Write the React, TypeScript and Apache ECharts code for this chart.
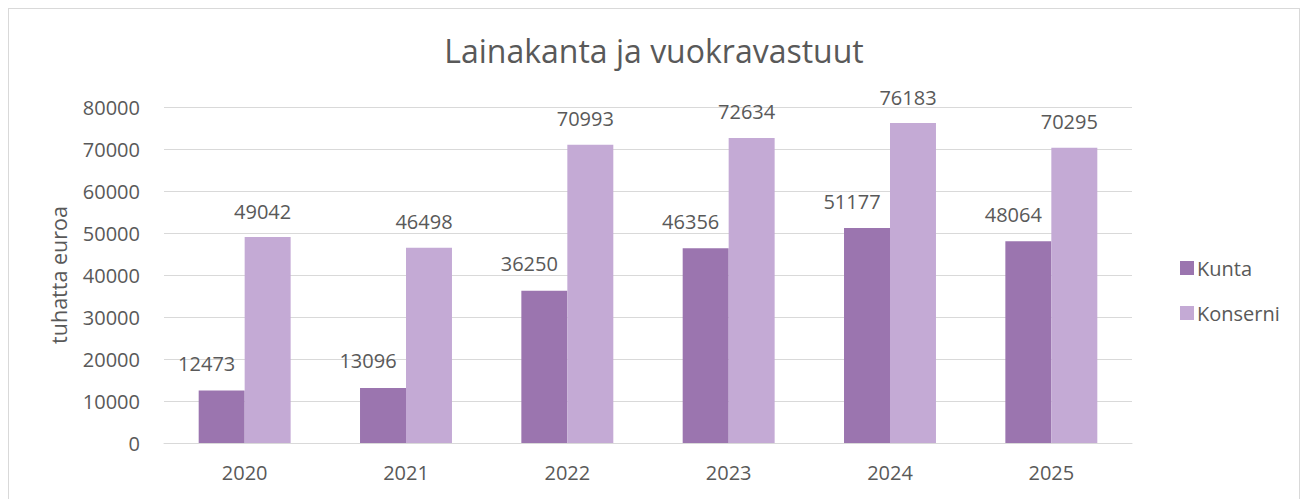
import React, { useEffect, useRef } from "react";
import * as echarts from "echarts";

const categories = ["2020", "2021", "2022", "2023", "2024", "2025"];
const kunta = [12473, 13096, 36250, 46356, 51177, 48064];
const konserni = [49042, 46498, 70993, 72634, 76183, 70295];
const seriesNames = ["Kunta", "Konserni"];
const chartTitle = "Lainakanta ja vuokravastuut";
const yAxisName = "tuhatta euroa";

const FONT = "'Open Sans', sans-serif";
const TEXT = "#595959";

export default function App() {
  const ref = useRef<HTMLDivElement>(null);
  useEffect(() => {
    if (!ref.current) return;
    const chart = echarts.init(ref.current, undefined, { renderer: "svg" });
    chart.setOption({
      animation: false,
      backgroundColor: "#ffffff",
      textStyle: { fontFamily: FONT, color: TEXT },
      title: {
        text: chartTitle,
        left: "center",
        top: 20,
        textStyle: { fontFamily: FONT, fontSize: 32, fontWeight: "normal", color: TEXT },
      },
      legend: {
        orient: "vertical",
        left: 1166,
        top: 244,
        itemWidth: 14,
        itemHeight: 14,
        itemGap: 25,
        icon: "rect",
        textStyle: { fontFamily: FONT, fontSize: 20, color: TEXT, padding: [0, 0, 0, -2] },
        data: seriesNames,
      },
      grid: { left: 155, right: 167, top: 98, bottom: 64, containLabel: false },
      xAxis: {
        type: "category",
        data: categories,
        axisLine: { lineStyle: { color: "#d9d9d9", width: 1 } },
        axisTick: { show: false },
        axisLabel: { fontFamily: FONT, fontSize: 20, color: TEXT, margin: 19 },
      },
      yAxis: {
        type: "value",
        min: 0,
        max: 80000,
        interval: 10000,
        name: yAxisName,
        nameLocation: "middle",
        nameGap: 95,
        nameRotate: 90,
        nameTextStyle: { fontFamily: FONT, fontSize: 21.5, color: TEXT },
        axisLine: { show: false },
        axisTick: { show: false },
        axisLabel: {
          fontFamily: FONT,
          fontSize: 20,
          color: TEXT,
          margin: 24,
          formatter: (v: number) => String(v),
        },
        splitLine: { lineStyle: { color: "#d9d9d9", width: 1 } },
      },
      series: [
        {
          name: seriesNames[0],
          type: "bar",
          data: kunta,
          barGap: "0%",
          barCategoryGap: "43%",
          itemStyle: { color: "#9B75AF" },
          label: {
            show: true,
            position: "top",
            distance: 5,
            offset: [-15, -12],
            fontFamily: FONT,
            fontSize: 20,
            color: TEXT,
          },
        },
        {
          name: seriesNames[1],
          type: "bar",
          data: konserni,
          barGap: "0%",
          barCategoryGap: "43%",
          itemStyle: { color: "#C4AAD5" },
          label: {
            show: true,
            position: "top",
            distance: 5,
            offset: [-5, -11],
            fontFamily: FONT,
            fontSize: 20,
            color: TEXT,
          },
        },
      ],
    });
    return () => chart.dispose();
  }, []);
  return (
    <div
      style={{
        width: 1292,
        height: 500,
        border: "1px solid #d9d9d9",
        boxSizing: "border-box",
        background: "#fff",
      }}
    >
      <div ref={ref} style={{ width: 1290, height: 498 }} />
    </div>
  );
}
